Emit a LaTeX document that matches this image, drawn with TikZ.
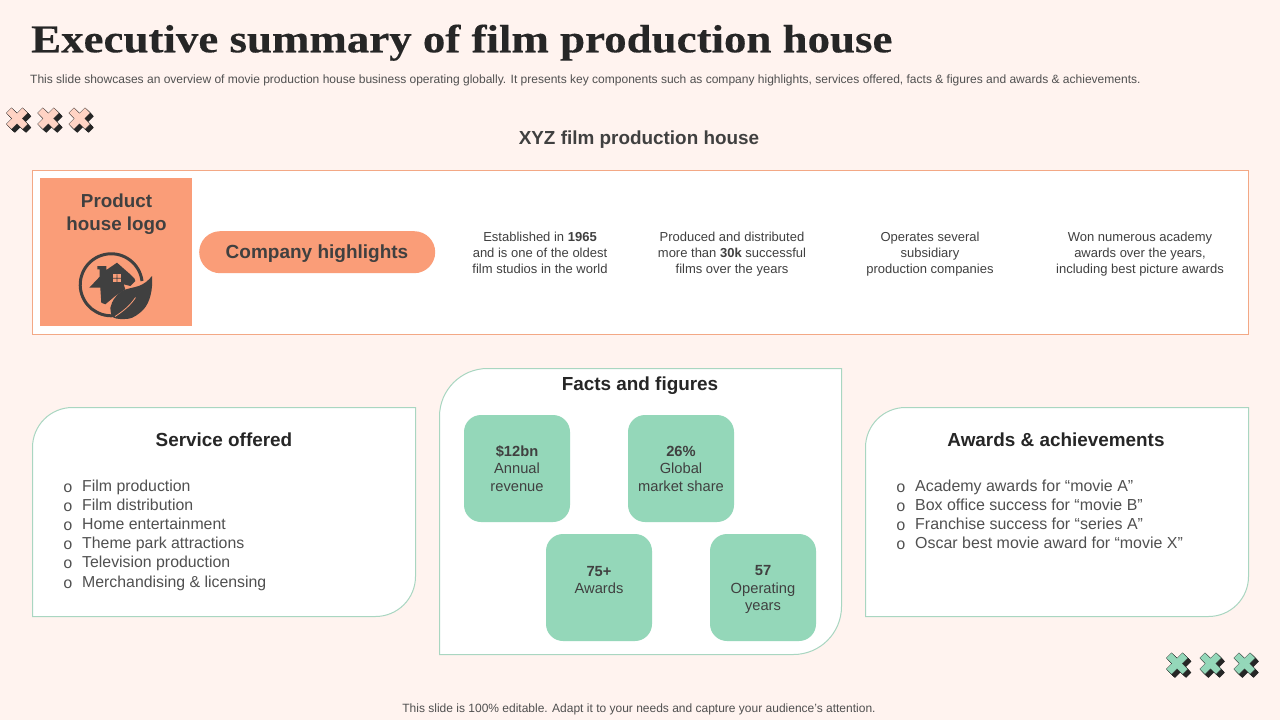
\documentclass[tikz,border=0pt]{standalone}
\usepackage{fontspec}
\setmainfont{Liberation Sans}
\newfontfamily\titlefont[FakeStretch=1.14,FakeBold=0.3]{Liberation Serif Bold}
\newfontfamily\bulletfont{Liberation Mono}
\usetikzlibrary{calc}
\definecolor{bgc}{HTML}{FFF3EF}
\definecolor{orangec}{HTML}{FA9D78}
\definecolor{greenc}{HTML}{94D7B9}
\definecolor{lineg}{HTML}{A9D6C1}
\definecolor{linep}{HTML}{F3A885}
\definecolor{txt}{HTML}{404040}
\definecolor{soft}{HTML}{505050}
\definecolor{dark}{HTML}{262626}
\definecolor{crossp}{HTML}{FFD3C4}
\newcommand{\xshape}{(-3.7,-11.5)--(3.7,-11.5)--(3.7,-3.7)--(11.5,-3.7)--(11.5,3.7)--(3.7,3.7)--(3.7,11.5)--(-3.7,11.5)--(-3.7,3.7)--(-11.5,3.7)--(-11.5,-3.7)--(-3.7,-3.7)--cycle}
\tikzset{
  panelg/.style={draw=lineg,line width=1pt,fill=white},
  tile/.style={fill=greenc,rounded corners=17pt},
  t/.style={inner sep=0pt,text=txt,font=\fontsize{13}{16}\selectfont,align=center},
  li/.style={inner sep=0pt,text=soft,anchor=base west,font=\fontsize{15.85}{19}\selectfont},
  la/.style={li,font=\fontsize{15.95}{19}\selectfont},
  bu/.style={inner sep=0pt,text=soft,anchor=base,font=\bulletfont\fontsize{16}{16}\selectfont},
  tiletext/.style={inner sep=0pt,text=txt,align=center,font=\fontsize{14.7}{17.5}\selectfont},
  head/.style={inner sep=0pt,text=dark,font=\bfseries\fontsize{18.9}{23}\selectfont},
  pics/xmark/.style={code={
    \foreach \d in {0.5,1,...,3.5}{\fill[dark,shift={(\d,\d)},rotate=45] \xshape;}
    \fill[#1,draw=dark,line width=.2pt,rotate=45] \xshape;
  }}
}
\newcommand{\diagbox}[5]{% x1,y1,x2,y2,r
  \draw[panelg] (#1,#4) -- (#1,{#2+#5}) arc[start angle=180,end angle=90,x radius=#5,y radius=-#5] -- (#3,#2) -- (#3,{#4-#5}) arc[start angle=0,end angle=-90,x radius=#5,y radius=-#5] -- cycle;
}
\begin{document}
\begin{tikzpicture}[x=1pt,y=-1pt]
\useasboundingbox (0,0) rectangle (1280,720);
\fill[bgc] (0,0) rectangle (1280,720);

\node[inner sep=0pt,anchor=base west,text=dark] (title) at (31,52.3) {\titlefont\fontsize{39.4}{46}\selectfont Executive summary of film production house};
\node[inner sep=0pt,anchor=base west,text=soft] (sub) at (30,83) {\fontsize{12.02}{14}\selectfont This slide showcases an overview of movie production house business operating globally. It presents key components such as company highlights, services offered, facts \& figures and awards \& achievements.};

\path (17,118.5) pic {xmark=crossp};
\path (48.3,118.5) pic {xmark=crossp};
\path (79.5,118.5) pic {xmark=crossp};
\path (1177,663.5) pic {xmark=greenc};
\path (1210.5,663.5) pic {xmark=greenc};
\path (1244.5,663.5) pic {xmark=greenc};

\node[inner sep=0pt,text=txt,font=\bfseries\fontsize{18.9}{23}\selectfont] (xyz) at (639,140) {XYZ film production house};

\node[draw=linep,line width=1pt,fill=white,minimum width=1216.5pt,minimum height=164.5pt,inner sep=0pt,outer sep=0pt,anchor=north west] (band) at (32,170) {};
\node[fill=orangec,minimum width=152pt,minimum height=148pt,inner sep=0pt,anchor=north west] (logo) at (40,178) {};
\node[inner sep=0pt,text=txt,align=center,font=\bfseries\fontsize{18.8}{23}\selectfont] (logotxt) at (116.5,214.5) {Product\\house logo};

% logo emblem
\draw[txt,line width=3pt] (142,281) arc[start angle=-7,end angle=-275,radius=31];
\fill[txt] (117,262.7) -- (131,275) .. controls (134,278) and (136,280) .. (135.3,281) -- (130.3,286) -- (123.7,284.3) -- (125.3,289.3) -- (115.3,296) -- (105.3,304.3) -- (101.3,302.7) -- (100.3,287.7) -- (89.3,287.7) -- (99.7,276.7) -- (99.7,269.3) -- (97.3,269.3) -- (97.3,266) -- (106.3,266) -- (106.3,270) -- cycle;
\fill[orangec] (112.7,274.3) rectangle (121.3,282);
\fill[txt] (116.6,274.3) rectangle (117.4,282) (112.7,277.8) rectangle (121.3,278.5);
\fill[txt] (152,276) .. controls (153,290) and (150,302) .. (143.7,309.3) .. controls (138,315) and (133,318) .. (128.7,318.7) .. controls (122,319.5) and (116,319) .. (113.7,317.7) -- (111.3,314.3) .. controls (110,309) and (110,306) .. (112,302.7) .. controls (114,298) and (118,294) .. (122,291) .. controls (128,288) and (133,288) .. (138.7,286) .. controls (144,284) and (148,281) .. (152,276) -- cycle;
\draw[orangec,line width=.8pt] (115,316.5) .. controls (122,312) and (130,306) .. (135.5,297.5);

\node[fill=orangec,minimum width=236pt,minimum height=42pt,rounded corners=21pt,inner sep=0pt,anchor=north west] (highlights) at (199,231) {};
\node[inner sep=0pt,text=txt,font=\bfseries\fontsize{19}{24}\selectfont] (hltxt) at (317,254) {Company highlights};

\node[t] (h1) at (540,253) {Established in \textbf{1965}\\and is one of the oldest\\film studios in the world};
\node[t] (h2) at (732,254) {Produced and distributed\\more than \textbf{30k} successful\\films over the years};
\node[t] (h3) at (930,254) {Operates several\\subsidiary\\production companies};
\node[t] (h4) at (1140,254) {Won numerous academy\\awards over the years,\\including best picture awards};

% panels
\diagbox{32.5}{407.5}{415.5}{616.5}{40}
\diagbox{439.5}{368.5}{841.5}{654.5}{48}
\diagbox{865.5}{407.5}{1248.5}{616.5}{40}

\node[head] (h-service) at (224,440) {Service offered};
\node[head] (h-facts) at (640,385.5) {Facts and figures};
\node[head] (h-awards) at (1056,440) {Awards \& achievements};

\foreach \n/\y/\s in {1/491/Film production,2/510/Film distribution,3/529/Home entertainment,4/548/Theme park attractions,5/567/Television production,6/587/Merchandising \& licensing}{
  \node[bu] (bs\n) at (68,\y+1) {o};
  \node[li] (ls\n) at (82,\y) {\s};
}
\foreach \n/\y/\s in {1/491/Academy awards for “movie A”,2/510/Box office success for “movie B”,3/529/Franchise success for “series A”,4/548/Oscar best movie award for “movie X”}{
  \node[bu] (ba\n) at (901,\y+1) {o};
  \node[la] (la\n) at (915,\y) {\s};
}

\fill[tile] (464,415) rectangle (570,522);
\fill[tile] (628,415) rectangle (734,522);
\fill[tile] (546,534) rectangle (652,641);
\fill[tile] (710,534) rectangle (816,641);
\node[tiletext] (f1) at (517,468.5) {\textbf{\$12bn}\\Annual\\revenue};
\node[tiletext] (f2) at (681,468.5) {\textbf{26\%}\\Global\\market share};
\node[tiletext] (f3) at (599,580) {\textbf{75+}\\Awards};
\node[tiletext] (f4) at (763,589.5) {\textbf{57}\\Operating\\years};

\node[inner sep=0pt,text=soft,font=\fontsize{12}{14}\selectfont] (foot) at (639,709) {This slide is 100\% editable. Adapt it to your needs and capture your audience's attention.};
\end{tikzpicture}
\end{document}
